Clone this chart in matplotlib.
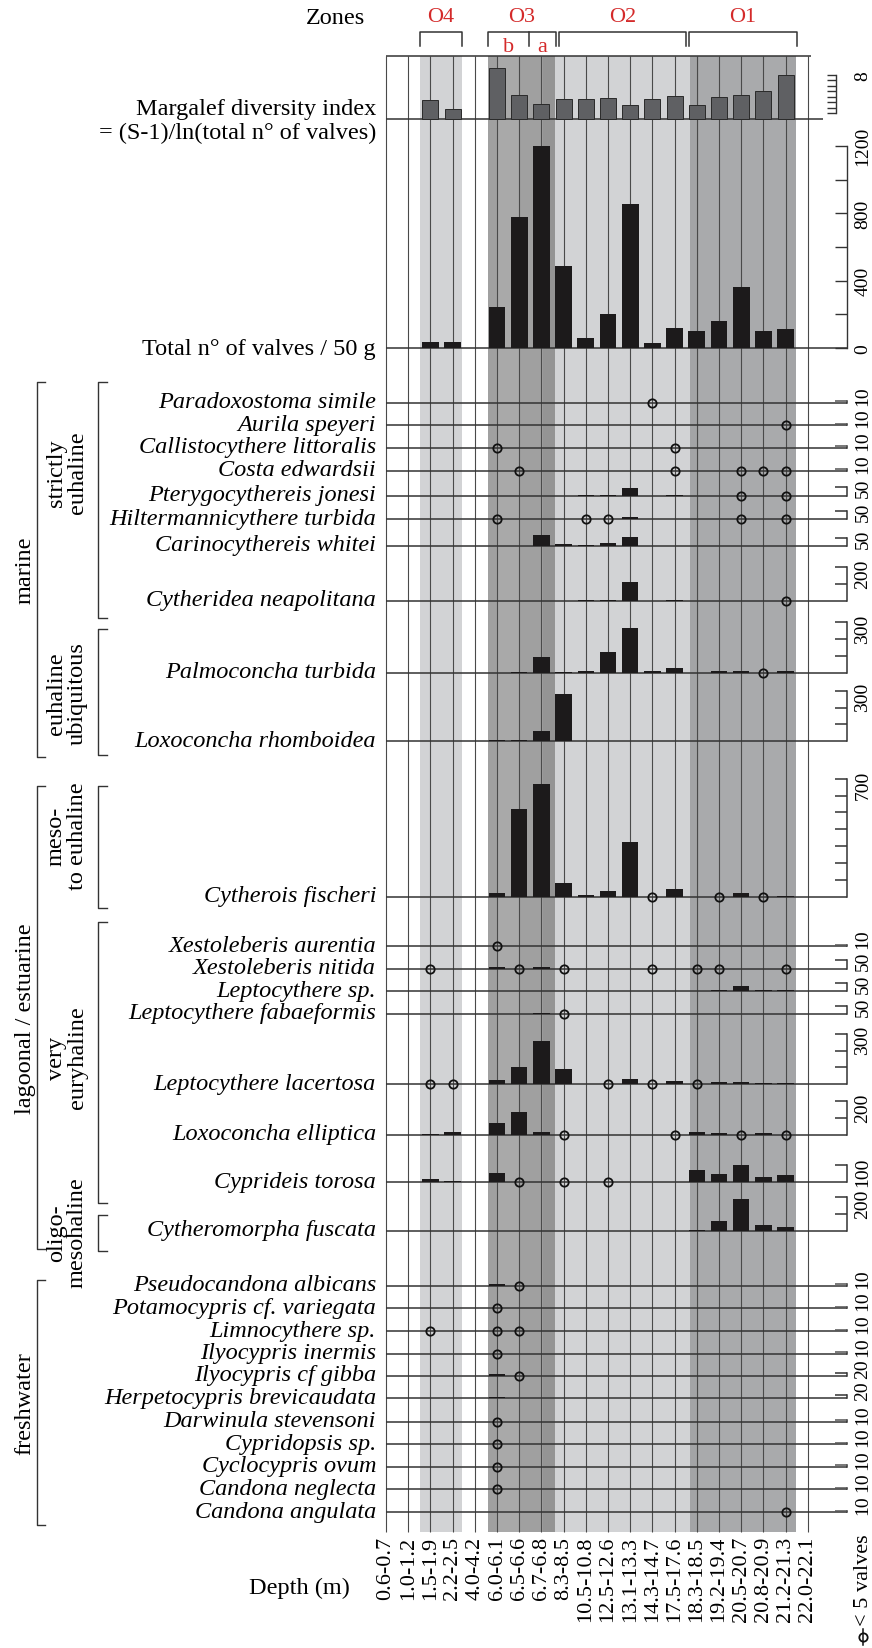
import matplotlib
matplotlib.use("Agg")
import matplotlib.pyplot as plt
from matplotlib.patches import Rectangle
from matplotlib import transforms

plt.rcParams['font.family'] = ['Liberation Serif', 'DejaVu Serif']

R = '<5'   # present, fewer than 5 valves

# samples (depth intervals, m)
depths = ["0.6-0.7", "1.0-1.2", "1.5-1.9", "2.2-2.5", "4.0-4.2", "6.0-6.1", "6.5-6.6",
          "6.7-6.8", "8.3-8.5", "10.5-10.8", "12.5-12.6", "13.1-13.3", "14.3-14.7",
          "17.5-17.6", "18.3-18.5", "19.2-19.4", "20.5-20.7", "20.8-20.9", "21.2-21.3",
          "22.0-22.1"]

margalef = [None, None, 3.5, 1.75, None, 9.3, 4.3, 2.8, 3.7, 3.7, 3.85, 2.6, 3.6, 4.2,
            2.5, 4.0, 4.3, 5.1, 7.95, None]
total_valves = [0, 0, 36, 34, 0, 244, 780, 1200, 487, 57, 202, 853, 32, 121, 101, 158,
                362, 99, 115, 0]

# valves per species (sample index -> n of valves)
paradoxostoma_simile = {12: R}
aurila_speyeri = {18: R}
callistocythere_littoralis = {5: R, 13: R}
costa_edwardsii = {6: R, 13: R, 16: R, 17: R, 18: R}
pterygocythereis_jonesi = {9: 6, 10: 6, 11: 46, 13: 5, 16: R, 18: R}
hiltermannicythere_turbida = {5: R, 9: R, 10: R, 11: 16, 16: R, 18: R}
carinocythereis_whitei = {7: 68, 8: 10, 9: 6, 10: 16, 11: 56}
cytheridea_neapolitana = {9: 6, 10: 6, 11: 112, 13: 5, 18: R}
palmoconcha_turbida = {6: 5, 7: 94, 8: 5, 9: 12, 10: 120, 11: 265, 12: 10, 13: 30,
                       15: 10, 16: 10, 17: R, 18: 10}
loxoconcha_rhomboidea = {5: 5, 6: 6, 7: 60, 8: 278}
cytherois_fischeri = {5: 22, 6: 518, 7: 670, 8: 82, 9: 10, 10: 34, 11: 326, 12: R,
                      13: 48, 15: R, 16: 20, 17: R, 18: 6}
xestoleberis_aurentia = {5: R}
xestoleberis_nitida = {2: R, 5: 8, 6: R, 7: 8, 8: R, 12: R, 14: R, 15: R, 18: R}
leptocythere_sp = {15: 6, 16: 32, 17: 6, 18: 8}
leptocythere_fabaeformis = {7: 6, 8: R}
leptocythere_lacertosa = {2: R, 3: R, 5: 28, 6: 100, 7: 256, 8: 88, 10: R, 11: 30,
                          12: R, 13: 20, 14: R, 15: 12, 16: 12, 17: 8, 18: 8}
loxoconcha_elliptica = {2: 6, 3: 16, 5: 68, 6: 136, 7: 16, 8: R, 13: R, 14: 14,
                        15: 12, 16: R, 17: 8, 18: R}
cyprideis_torosa = {2: 20, 3: 8, 5: 58, 6: R, 8: R, 10: R, 14: 74, 15: 50, 16: 102,
                    17: 34, 18: 46}
cytheromorpha_fuscata = {14: 6, 15: 60, 16: 186, 17: 32, 18: 24}
pseudocandona_albicans = {5: 8, 6: R}
potamocypris_variegata = {5: R}
limnocythere_sp = {2: R, 5: R, 6: R}
ilyocypris_inermis = {5: R}
ilyocypris_gibba = {5: 10, 6: R}
herpetocypris_brevicaudata = {5: 6}
darwinula_stevensoni = {5: R}
cypridopsis_sp = {5: R}
cyclocypris_ovum = {5: R}
candona_neglecta = {5: R}
candona_angulata = {18: R}

species_names = ["Paradoxostoma simile", "Aurila speyeri", "Callistocythere littoralis",
                 "Costa edwardsii", "Pterygocythereis jonesi", "Hiltermannicythere turbida",
                 "Carinocythereis whitei", "Cytheridea neapolitana", "Palmoconcha turbida",
                 "Loxoconcha rhomboidea", "Cytherois fischeri", "Xestoleberis aurentia",
                 "Xestoleberis nitida", "Leptocythere sp.", "Leptocythere fabaeformis",
                 "Leptocythere lacertosa", "Loxoconcha elliptica", "Cyprideis torosa",
                 "Cytheromorpha fuscata", "Pseudocandona albicans",
                 "Potamocypris cf. variegata", "Limnocythere sp.", "Ilyocypris inermis",
                 "Ilyocypris cf gibba", "Herpetocypris brevicaudata", "Darwinula stevensoni",
                 "Cypridopsis sp.", "Cyclocypris ovum", "Candona neglecta", "Candona angulata"]
species_counts = [paradoxostoma_simile, aurila_speyeri, callistocythere_littoralis,
                  costa_edwardsii, pterygocythereis_jonesi, hiltermannicythere_turbida,
                  carinocythereis_whitei, cytheridea_neapolitana, palmoconcha_turbida,
                  loxoconcha_rhomboidea, cytherois_fischeri, xestoleberis_aurentia,
                  xestoleberis_nitida, leptocythere_sp, leptocythere_fabaeformis,
                  leptocythere_lacertosa, loxoconcha_elliptica, cyprideis_torosa,
                  cytheromorpha_fuscata, pseudocandona_albicans, potamocypris_variegata,
                  limnocythere_sp, ilyocypris_inermis, ilyocypris_gibba,
                  herpetocypris_brevicaudata, darwinula_stevensoni, cypridopsis_sp,
                  cyclocypris_ovum, candona_neglecta, candona_angulata]
scale_max = [10, 10, 10, 10, 50, 50, 50, 200, 300, 300, 700, 10, 50, 50, 50, 300, 200,
             100, 200, 10, 10, 10, 10, 20, 20, 10, 10, 10, 10, 10]

# ecological groups: (label, top, bottom) in px
outer_groups = [("marine", 383, 758), ("lagoonal / estuarine", 787, 1250),
                ("freshwater", 1281, 1526)]
inner_groups = [("strictly\neuhaline", 383, 619, 473), ("euhaline\nubiquitous", 630, 756, 694),
                ("meso-\nto euhaline", 787, 909, 836), ("very\neuryhaline", 923, 1204, 1058),
                ("oligo-\nmesohaline", 1216, 1252, 1233)]
zones = [("O4", 1.53, 3.42), ("O3", 4.59, 7.66), ("O2", 7.79, 13.51), ("O1", 13.65, 18.51)]

# ---- layout (pixels of the 872 x 1649 figure) ----
X0, DX = 386, 22.2            # x of sample 0, spacing between samples
TOP, BOTTOM = 57, 1533
MG_BASE, MG_K = 120, 5.53     # margalef baseline, px per unit
TV_BASE = 349
K = 0.1685                    # px per valve (all count panels)
AX_X = 847
row_y = [404, 426.3, 449, 471.7, 496.7, 520.3, 547, 601.7, 673.7, 742.3, 897.7, 947.3,
         969.7, 992.3, 1015, 1085.3, 1135.7, 1183.3, 1231.7, 1286.7, 1309.3, 1332.3,
         1354.7, 1377, 1399.3, 1422.7, 1445.3, 1468, 1490.3, 1513.3]

LINE = '#333333'
LIGHT = '#d2d3d5'
FS = 17.5

fig = plt.figure(figsize=(8.72, 16.49), dpi=100)
ax = fig.add_axes([0, 0, 1, 1])
ax.set_xlim(0, 872)
ax.set_ylim(1649, 0)
ax.axis('off')
tr = transforms.Affine2D().scale(DX, 1).translate(X0, 0) + ax.transData

# background zone bands
bands = [(1.53, 3.42, LIGHT),
         (4.59, 5.05, '#a0a0a0'), (5.05, 6.0, '#a9a9a9'), (6.0, 7.05, '#a0a0a0'),
         (7.05, 7.6, '#949494'),
         (7.6, 13.68, LIGHT),
         (13.68, 14.1, '#a3a4a6'), (14.1, 18.0, '#a9aaac'), (18.0, 18.49, '#a3a4a6')]
for a, b, c in bands:
    ax.add_patch(Rectangle((a, TOP), b - a, BOTTOM - TOP, transform=tr, facecolor=c,
                           lw=0, zorder=0))

n = len(depths)
ax.vlines(range(n), TOP, BOTTOM, transform=tr, colors='#4a4a4a', lw=0.8, zorder=1)

# frame / baselines
ax.hlines(TOP, X0, 811, colors=LINE, lw=1.1, zorder=2)
ax.hlines(MG_BASE, X0, 823, colors=LINE, lw=1.1, zorder=2)
ax.hlines(TV_BASE, X0, AX_X, colors=LINE, lw=1.1, zorder=2)
ax.hlines(row_y, X0, AX_X, colors=LINE, lw=1.1, zorder=2)

# margalef
mx = [i for i, v in enumerate(margalef) if v is not None]
mv = [margalef[i] * MG_K for i in mx]
ax.bar(mx, [-v for v in mv], bottom=MG_BASE, width=0.72, color='#5f6063',
       edgecolor='#2a2a2a', lw=0.7, transform=tr, zorder=3)
mg_ticks = [MG_BASE - k * MG_K for k in range(1, 9)]
ax.plot([836, 836], [mg_ticks[0], mg_ticks[-1]], color=LINE, lw=1)
ax.hlines(mg_ticks, 827, 836, colors=LINE, lw=1)
ax.text(863, mg_ticks[-1], "8", rotation=90, ha='center', va='center', fontsize=14)

# total valves
tx = [i for i, v in enumerate(total_valves) if v > 0]
ax.bar(tx, [-total_valves[i] * K for i in tx], bottom=TV_BASE, width=0.75,
       color='#1c1a1b', lw=0, transform=tr, zorder=3)
tv_ticks = list(range(0, 1201, 200))
ax.plot([AX_X, AX_X], [TV_BASE, TV_BASE - 1200 * K], color=LINE, lw=1)
ax.hlines([TV_BASE - t * K for t in tv_ticks], 835, AX_X, colors=LINE, lw=1)
for t in tv_ticks[::2]:
    ax.text(863, TV_BASE - t * K, str(t), rotation=90, ha='center', va='center', fontsize=14)

# species rows
for name, counts, smax, base in zip(species_names, species_counts, scale_max, row_y):
    bx = [i for i, v in counts.items() if v != R]
    ax.bar(bx, [-counts[i] * K for i in bx], bottom=base, width=0.74, color='#1c1a1b',
           lw=0, transform=tr, zorder=3)
    cx = [i for i, v in counts.items() if v == R]
    ax.plot(cx, [base] * len(cx), 'o', ms=6, mfc='none', mec='#111111', mew=1.3,
            ls='none', transform=tr, zorder=4)
    ax.text(376, base - 1, name, ha='right', va='center', style='italic', fontsize=FS)
    top = base - smax * K
    ax.plot([AX_X, AX_X], [base, top], color=LINE, lw=1.1)
    ticks = [top] + [base - t * K for t in range(100, smax, 100)]
    ax.hlines(ticks, 835, AX_X, colors='#555555' if smax <= 10 else LINE, lw=1.1)
    ax.text(863, min(base - 8, top + 6), str(smax), rotation=90, ha='center',
            va='center', fontsize=14)

# left labels
ax.text(365, 18, "Zones", ha='right', va='center', fontsize=FS)
ax.text(376, 109, "Margalef diversity index", ha='right', va='center', fontsize=FS)
ax.text(376, 133, "= (S-1)/ln(total n\u00b0 of valves)", ha='right', va='center', fontsize=FS)
ax.text(376, TV_BASE, "Total n\u00b0 of valves / 50 g", ha='right', va='center', fontsize=FS)

for label, y0, y1 in outer_groups:
    ax.plot([45, 37, 37, 45], [y0, y0, y1, y1], color=LINE, lw=1)
    ax.text(25, (y0 + y1) / 2, label, rotation=90, ha='center', va='center', fontsize=FS)
for label, y0, y1, yc in inner_groups:
    ax.plot([107, 98, 98, 107], [y0, y0, y1, y1], color=LINE, lw=1)
    ax.text(67, yc, label, rotation=90, ha='center', va='center', fontsize=FS,
            linespacing=1.0, multialignment='center')

# zones header
for label, a, b in zones:
    ax.plot([a, a, b, b], [47, 33, 33, 47], color=LINE, lw=1.1, transform=tr)
    ax.text((a + b) / 2, 18, label, ha='center', va='center', color='#d42a2a',
            fontsize=16, transform=tr)
ax.plot([6.44, 6.44], [33, 47], color=LINE, lw=1.1, transform=tr)
ax.text(5.5, 47, "b", ha='center', va='center', color='#d42a2a', fontsize=16, transform=tr)
ax.text(7.05, 47, "a", ha='center', va='center', color='#d42a2a', fontsize=16, transform=tr)

# depth axis
for i, d in enumerate(depths):
    ax.text(i, 1537, d, rotation=90, ha='center', va='top', fontsize=16, transform=tr)
ax.text(350, 1588, "Depth (m)", ha='right', va='center', fontsize=FS)

# legend
ax.plot([863], [1638], 'o', ms=6, mfc='none', mec='#111111', mew=1.3)
ax.plot([863, 863], [1630, 1646], color='#111111', lw=1.1)
ax.text(863, 1626, "< 5 valves", rotation=90, ha='center', va='bottom', fontsize=16)

fig.savefig("out.png", dpi=100)
